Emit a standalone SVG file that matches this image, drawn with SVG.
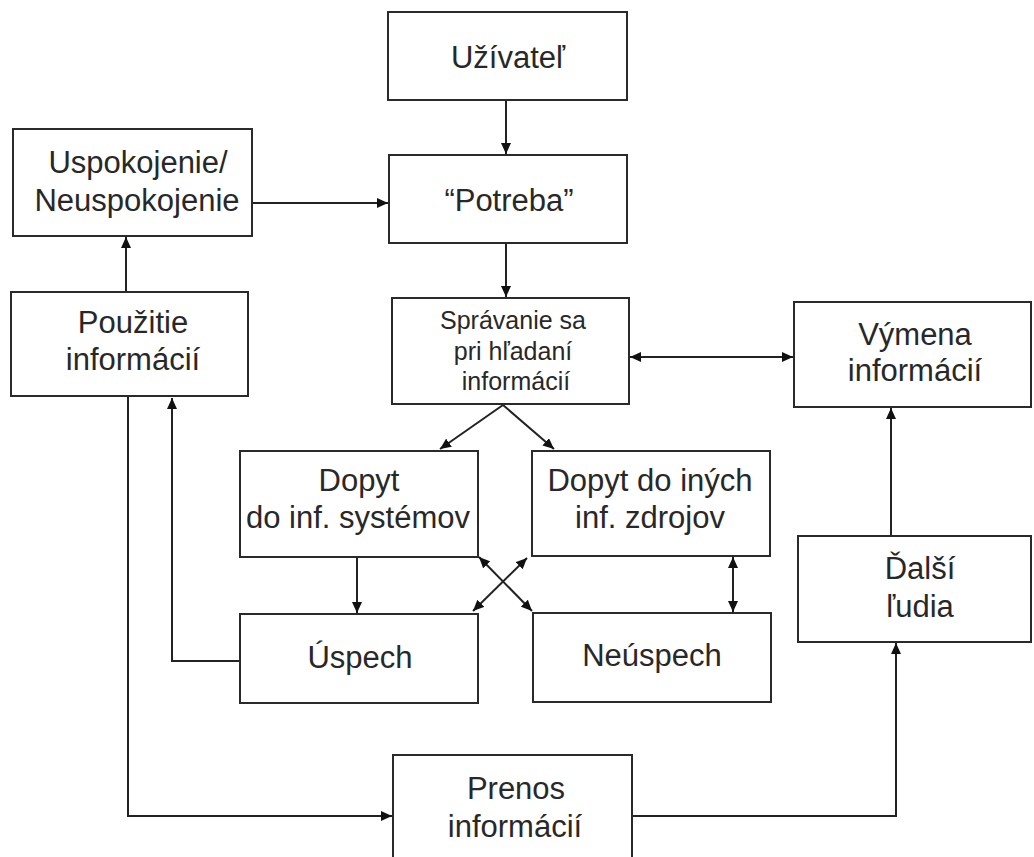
<svg xmlns="http://www.w3.org/2000/svg" width="1034" height="857" viewBox="0 0 1034 857">
  <style>
    .box { fill: #ffffff; stroke: #2a2a2a; stroke-width: 2; }
    .lbl { font-family: "Liberation Sans", Arial, sans-serif; font-size: 31px; fill: #282828; text-anchor: middle; }
    .sm { font-size: 25px; }
    .edge { fill: none; stroke: #222222; stroke-width: 2; }
  </style>
  <defs>
    <marker id="head" viewBox="0 0 11 10" refX="11" refY="5" markerWidth="11" markerHeight="10" markerUnits="userSpaceOnUse" orient="auto-start-reverse">
      <path d="M0,0 L11,5 L0,10 z" fill="#111111"/>
    </marker>
  </defs>
  <rect width="1034" height="857" fill="#ffffff"/>

  <g id="connectors">
    <line class="edge" x1="506" y1="100" x2="506" y2="154" marker-end="url(#head)"/>
    <line class="edge" x1="506" y1="243" x2="506" y2="297" marker-end="url(#head)"/>
    <line class="edge" x1="252" y1="203" x2="388" y2="203" marker-end="url(#head)"/>
    <line class="edge" x1="126" y1="292" x2="126" y2="237" marker-end="url(#head)"/>
    <line class="edge" x1="630" y1="357" x2="793" y2="357" marker-start="url(#head)" marker-end="url(#head)"/>
    <line class="edge" x1="503" y1="405" x2="440" y2="449" marker-end="url(#head)"/>
    <line class="edge" x1="503" y1="405" x2="554" y2="449" marker-end="url(#head)"/>
    <line class="edge" x1="357" y1="557" x2="357" y2="613" marker-end="url(#head)"/>
    <line class="edge" x1="479" y1="557" x2="532" y2="611" marker-start="url(#head)" marker-end="url(#head)"/>
    <line class="edge" x1="527" y1="558" x2="473" y2="611" marker-start="url(#head)" marker-end="url(#head)"/>
    <line class="edge" x1="733" y1="557" x2="733" y2="612" marker-start="url(#head)" marker-end="url(#head)"/>
    <polyline class="edge" points="240,661 172,661 172,398" marker-end="url(#head)"/>
    <polyline class="edge" points="128,397 128,816 392,816" marker-end="url(#head)"/>
    <polyline class="edge" points="632,816 896,816 896,643" marker-end="url(#head)"/>
    <line class="edge" x1="891" y1="536" x2="891" y2="408" marker-end="url(#head)"/>
  </g>

  <g id="uzivatel">
    <rect class="box" x="388" y="12" width="239" height="88"/>
    <text class="lbl" x="508" y="68">Užívateľ</text>
  </g>
  <g id="potreba">
    <rect class="box" x="389" y="155" width="238" height="88"/>
    <text class="lbl" x="509" y="211">“Potreba”</text>
  </g>
  <g id="uspokojenie">
    <rect class="box" x="13" y="129" width="239" height="107"/>
    <text class="lbl" x="138" y="173">Uspokojenie/</text>
    <text class="lbl" x="137" y="211">Neuspokojenie</text>
  </g>
  <g id="pouzitie">
    <rect class="box" x="11" y="292" width="237" height="104"/>
    <text class="lbl" x="133" y="333">Použitie</text>
    <text class="lbl" x="133" y="370">informácií</text>
  </g>
  <g id="spravanie">
    <rect class="box" x="392" y="298" width="237" height="106"/>
    <text class="lbl sm" x="513" y="329">Správanie sa</text>
    <text class="lbl sm" x="513" y="360">pri hľadaní</text>
    <text class="lbl sm" x="516" y="390">informácií</text>
  </g>
  <g id="vymena">
    <rect class="box" x="794" y="302" width="237" height="105"/>
    <text class="lbl" x="915" y="345">Výmena</text>
    <text class="lbl" x="915" y="381">informácií</text>
  </g>
  <g id="dopyt-systemy">
    <rect class="box" x="240" y="451" width="238" height="106"/>
    <text class="lbl" x="359" y="491">Dopyt</text>
    <text class="lbl" x="358" y="528">do inf. systémov</text>
  </g>
  <g id="dopyt-zdroje">
    <rect class="box" x="532" y="451" width="238" height="105"/>
    <text class="lbl" x="650" y="491">Dopyt do iných</text>
    <text class="lbl" x="650" y="528">inf. zdrojov</text>
  </g>
  <g id="uspech">
    <rect class="box" x="240" y="614" width="238" height="89"/>
    <text class="lbl" x="360" y="668">Úspech</text>
  </g>
  <g id="neuspech">
    <rect class="box" x="533" y="613" width="238" height="89"/>
    <text class="lbl" x="652" y="666">Neúspech</text>
  </g>
  <g id="dalsi-ludia">
    <rect class="box" x="798" y="536" width="233" height="106"/>
    <text class="lbl" x="920" y="579">Ďalší</text>
    <text class="lbl" x="920" y="617">ľudia</text>
  </g>
  <g id="prenos">
    <rect class="box" x="393" y="755" width="239" height="120"/>
    <text class="lbl" x="516" y="799">Prenos</text>
    <text class="lbl" x="515" y="837">informácií</text>
  </g>
</svg>
